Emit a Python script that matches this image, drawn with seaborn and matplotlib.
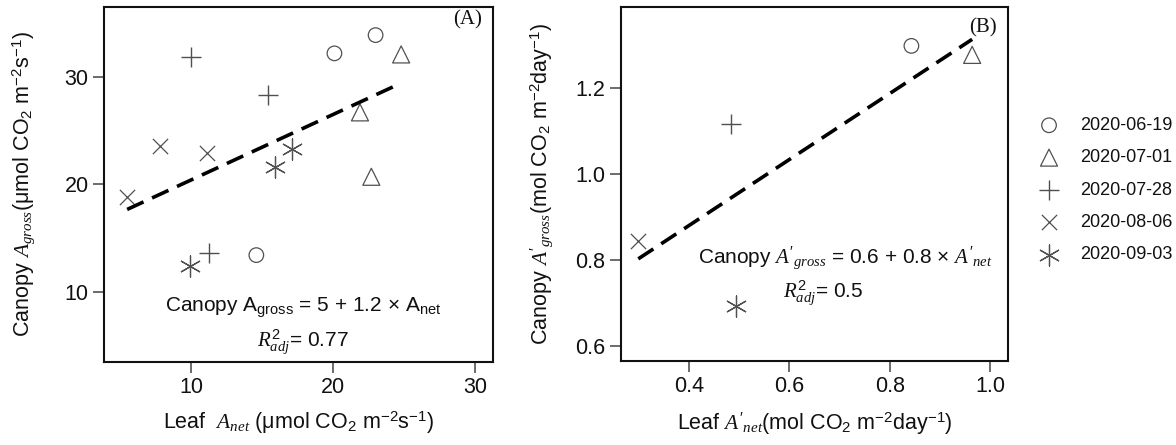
import numpy as np
import pandas as pd
import matplotlib
matplotlib.use("Agg")
import matplotlib.pyplot as plt
import seaborn as sns

# ---------------- data ----------------
dates = ["2020-06-19", "2020-07-01", "2020-07-28", "2020-08-06", "2020-09-03"]

# Panel A: leaf A_net vs canopy A_gross (umol CO2 m-2 s-1)
a_date = ["2020-06-19"] * 3 + ["2020-07-01"] * 3 + ["2020-07-28"] * 3 + ["2020-08-06"] * 3 + ["2020-09-03"] * 3
a_leaf = [20.1, 23.0, 14.6, 24.8, 21.9, 22.7, 10.0, 15.45, 11.3, 5.5, 7.8, 11.1, 9.9, 15.9, 17.1]
a_canopy = [32.2, 33.9, 13.4, 32.1, 26.7, 20.7, 31.9, 28.3, 13.6, 18.8, 23.6, 22.9, 12.4, 21.6, 23.3]
a_fit = (14.3, 0.61)          # intercept, slope of dashed line

# Panel B: daily leaf A'_net vs canopy A'_gross (mol CO2 m-2 day-1)
b_date = dates
b_leaf = [0.843, 0.964, 0.484, 0.299, 0.494]
b_canopy = [1.299, 1.278, 1.117, 0.845, 0.693]
b_fit = (0.572, 0.77)

a_xticks = [10, 20, 30]
a_yticks = [10, 20, 30]
b_xticks = [0.4, 0.6, 0.8, 1.0]
b_yticks = [0.6, 0.8, 1.0, 1.2]

dfA = pd.DataFrame({"date": a_date, "leaf": a_leaf, "canopy": a_canopy})
dfB = pd.DataFrame({"date": b_date, "leaf": b_leaf, "canopy": b_canopy})

# ---------------- style ----------------
sns.set_style("white")
plt.rcParams["font.family"] = ["Liberation Sans", "DejaVu Sans"]
plt.rcParams["mathtext.fontset"] = "custom"
plt.rcParams["mathtext.rm"] = "Liberation Sans"
plt.rcParams["mathtext.sf"] = "Liberation Sans"
plt.rcParams["mathtext.it"] = "Liberation Serif:italic"
plt.rcParams["mathtext.bf"] = "Liberation Sans:bold"

mcol = "#505050"
marker_map = {
    "2020-06-19": dict(marker="o", s=110, facecolors="none", edgecolor=mcol, linewidths=0.9),
    "2020-07-01": dict(marker="^", s=150, facecolors="none", edgecolor=mcol, linewidths=0.9),
    "2020-07-28": dict(marker="+", s=220, color=mcol, linewidths=1.0),
    "2020-08-06": dict(marker="x", s=120, color=mcol, linewidths=0.9),
    "2020-09-03": dict(marker=(6, 2, 0), s=230, color=mcol, linewidths=0.9),
}

fig = plt.figure(figsize=(11.76, 4.45), dpi=100)
axA = fig.add_axes([104 / 1176, 1 - 362 / 445, 389 / 1176, 355 / 445])
axB = fig.add_axes([620.7 / 1176, 1 - 361 / 445, 387.6 / 1176, 353.7 / 445])


def draw(ax, df, fit):
    for d in dates:
        sub = df[df["date"] == d]
        sns.scatterplot(data=sub, x="leaf", y="canopy", ax=ax, label=d,
                        legend=False, **marker_map[d])
    xs = np.array([df["leaf"].min(), df["leaf"].max()])
    sns.lineplot(x=xs, y=fit[0] + fit[1] * xs, ax=ax, color="black",
                 linewidth=2.6, linestyle=(0, (5.0, 2.6)), legend=False)
    for s in ax.spines.values():
        s.set_visible(True)
        s.set_color("#111111")
        s.set_linewidth(1.5)
    ax.tick_params(axis="both", direction="out", length=8, width=1.1,
                   color="#444444", labelsize=15.5, pad=3, left=True, bottom=True,
                   labelcolor="#111111")
    if ax.get_legend():
        ax.get_legend().remove()


draw(axA, dfA, a_fit)
draw(axB, dfB, b_fit)

axA.set_xlim(3.87, 31.27)
axA.set_ylim(3.44, 36.52)
axA.set_xticks(a_xticks)
axA.set_yticks(a_yticks)
axB.set_xlim(0.264, 1.036)
axB.set_ylim(0.564, 1.389)
axB.set_xticks(b_xticks)
axB.set_yticks(b_yticks)

lab_kw = dict(fontsize=15.5, color="#111111")
axA.set_xlabel(r"Leaf  $A_{net}$ (μmol CO$_2$ m$^{-2}$s$^{-1}$)", **lab_kw)
axA.set_ylabel(r"Canopy $A_{gross}$(μmol CO$_2$ m$^{-2}$s$^{-1}$)", **lab_kw)
axB.set_xlabel(r"Leaf $A'_{net}$(mol CO$_2$ m$^{-2}$day$^{-1}$)", **lab_kw)
axB.set_ylabel(r"Canopy $A'_{gross}$(mol CO$_2$ m$^{-2}$day$^{-1}$)", **lab_kw)
axA.xaxis.set_label_coords(0.5, -0.135)
axB.xaxis.set_label_coords(0.5, -0.14)
axA.yaxis.set_label_coords(-0.172, 0.5)
axB.yaxis.set_label_coords(-0.170, 0.5)

txt_kw = dict(fontsize=15, color="#111111", ha="center", va="center")
axA.text(0.512, 0.152, r"Canopy A$_{\mathrm{gross}}$ = 5 + 1.2 × A$_{\mathrm{net}}$",
         transform=axA.transAxes, **txt_kw)
axA.text(0.51, 0.054, r"$R^2_{adj}$= 0.77", transform=axA.transAxes, **txt_kw)
axB.text(0.579, 0.291, r"Canopy $A'_{gross}$ = 0.6 + 0.8 × $A'_{net}$",
         transform=axB.transAxes, **txt_kw)
axB.text(0.522, 0.192, r"$R^2_{adj}$= 0.5", transform=axB.transAxes, **txt_kw)

axA.text(0.972, 0.963, "(A)", transform=axA.transAxes, ha="right", va="center",
         fontsize=15, family="Liberation Serif", color="#111111")
axB.text(0.970, 0.941, "(B)", transform=axB.transAxes, ha="right", va="center",
         fontsize=15, family="Liberation Serif", color="#111111")

handles, labels = axA.get_legend_handles_labels()
fig.legend(handles, labels, loc="upper left", bbox_to_anchor=(1040 / 1176, 1 - 117 / 445),
           frameon=False, fontsize=13, handlelength=1.0, handletextpad=1.2,
           labelspacing=0.85, borderpad=0, borderaxespad=0, labelcolor="#111111")

fig.savefig("out.png", dpi=100)
